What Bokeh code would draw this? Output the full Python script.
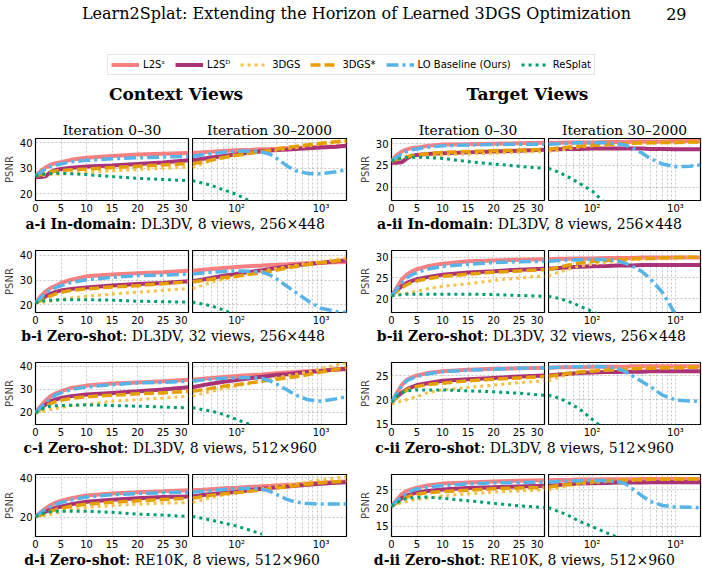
from bokeh.plotting import figure
from bokeh.layouts import column, row
from bokeh.models import Range1d, FixedTicker, Grid, Label
from bokeh.embed import file_html
from bokeh.resources import INLINE

NAN = float("nan")

# ---------------------------------------------------------------- data
ITER_EARLY = [0, 1, 2, 3, 4, 5, 7, 10, 15, 20, 25, 30]
ITER_LATE = [30, 40, 50, 70, 100, 150, 200, 250, 300, 400, 500, 700, 1000, 1500, 2000]
ITERS = ITER_EARLY + ITER_LATE[1:]

METHODS = ["L2S\u02e2", "L2S\u1d30", "3DGS", "3DGS*", "LO Baseline (Ours)", "ReSplat"]

X_TICKS_EARLY = [0, 5, 10, 15, 20, 25, 30]
X_TICKS_LATE = [100, 1000]
X_MINOR_LATE = [40, 50, 60, 70, 80, 90, 200, 300, 400, 500, 600, 700, 800, 900]
X_LABELS_LATE = {100: "10\u00b2", 1000: "10\u00b3"}

# PSNR values, 12 early points (0..30) followed by 14 late points (40..2000)
AI_L2SS = [27.0, 28.8, 30.4, 31.4, 32.0, 32.4, 33.3, 34.1, 34.8, 35.4, 35.7, 36.0,
           36.3, 36.5, 36.8, 37.1, 37.3, 37.5, 37.6, 37.7, 37.9, 38.0, 38.2, 38.4, 38.6, 38.8]
AI_L2SD = [26.4, 26.5, 26.8, 28.6, 29.3, 29.7, 30.2, 30.7, 31.1, 31.7, 32.3, 33.1,
           33.7, 34.2, 34.8, 35.5, 36.2, 36.7, 37.0, 37.2, 37.4, 37.6, 37.9, 38.2, 38.5, 38.8]
AI_3DGS = [27.0, 27.1, 27.3, 27.5, 27.6, 27.7, 28.0, 28.4, 29.0, 29.5, 30.0, 30.4,
           31.8, 33.0, 34.3, 35.3, 36.0, 36.5, 36.9, 37.2, 37.7, 38.1, 38.8, 39.5, 40.1, 40.5]
AI_3DGSX = [27.0, 27.5, 28.0, 28.6, 28.9, 29.1, 29.4, 29.7, 30.3, 30.8, 31.3, 31.8,
            32.5, 33.2, 34.2, 35.1, 36.0, 36.6, 37.1, 37.6, 38.2, 38.6, 39.2, 39.8, 40.4, 40.8]
AI_LO = [27.0, 28.4, 29.7, 30.7, 31.3, 31.7, 32.5, 33.1, 33.7, 34.1, 34.4, 34.7,
         35.3, 35.7, 36.3, 36.7, 36.8, 36.4, 35.5, 33.8, 30.8, 29.0, 27.9, 27.8, 28.6, 29.4]
AI_RESPLAT = [27.0, 27.4, 27.7, 27.9, 28.0, 28.0, 27.8, 27.5, 26.7, 26.0, 25.6, 25.1,
              24.1, 23.3, 21.5, 19.7, 16.7, 14.5] + [NAN] * 8

AII_L2SS = [26.0, 27.3, 28.2, 28.7, 29.0, 29.1, 29.5, 29.8, 29.9, 30.0, 30.1, 30.2,
            30.2, 30.3, 30.3, 30.3, 30.4, 30.4, 30.4, 30.5, 30.5, 30.5, 30.5, 30.6, 30.6, 30.6]
AII_L2SD = [25.6, 25.6, 25.7, 26.6, 27.2, 27.4, 27.6, 27.8, 28.0, 28.2, 28.4, 28.6,
            28.7, 28.8, 28.8, 28.9, 28.9, 28.9, 28.9, 28.9, 28.9, 28.8, 28.8, 28.7, 28.7, 28.7]
AII_3DGS = [26.0, 26.3, 26.6, 26.8, 26.9, 26.9, 27.1, 27.4, 27.6, 27.8, 28.0, 28.2,
            28.5, 28.8, 29.2, 29.5, 29.7, 29.9, 30.0, 30.0, 30.1, 30.1, 30.2, 30.2, 30.3, 30.3]
AII_3DGSX = [26.0, 26.4, 26.7, 27.0, 27.2, 27.4, 27.7, 28.0, 28.2, 28.4, 28.5, 28.7,
             29.0, 29.2, 29.4, 29.6, 29.8, 29.9, 30.0, 30.1, 30.2, 30.2, 30.3, 30.3, 30.4, 30.4]
AII_LO = [26.0, 26.9, 27.6, 28.2, 28.6, 28.8, 29.2, 29.5, 29.7, 29.8, 29.9, 29.9,
          30.0, 30.1, 30.2, 30.2, 30.2, 30.0, 29.7, 29.1, 27.8, 26.6, 25.3, 24.7, 24.8, 25.1]
AII_RESPLAT = [26.0, 26.4, 26.6, 26.8, 26.9, 26.9, 26.8, 26.6, 25.9, 25.3, 24.8, 24.3,
               23.4, 22.5, 20.9, 19.1, 16.0] + [NAN] * 9

BI_L2SS = [20.7, 23.4, 25.4, 26.8, 27.7, 28.8, 30.1, 31.5, 32.2, 32.8, 33.2, 33.8,
           34.2, 34.5, 34.9, 35.3, 35.7, 35.9, 36.1, 36.2, 36.4, 36.6, 36.8, 37.0, 37.2, 37.3]
BI_L2SD = [20.7, 22.0, 23.4, 24.5, 25.2, 25.8, 26.4, 27.0, 27.8, 28.4, 28.8, 29.5,
           30.2, 30.8, 31.7, 32.5, 33.4, 34.0, 34.5, 34.9, 35.5, 36.0, 36.5, 37.0, 37.6, 38.0]
BI_3DGS = [20.7, 20.9, 21.1, 21.5, 21.8, 22.0, 22.7, 23.4, 24.3, 25.1, 25.8, 26.5,
           28.0, 29.0, 30.3, 31.5, 32.7, 33.5, 34.2, 34.7, 35.4, 36.0, 36.8, 37.5, 38.4, 39.0]
BI_3DGSX = [20.7, 21.7, 22.7, 23.6, 24.4, 25.0, 25.8, 26.4, 27.2, 27.7, 28.5, 29.2,
            29.8, 30.3, 31.0, 31.5, 32.4, 33.0, 33.6, 34.1, 34.9, 35.5, 36.3, 37.0, 37.7, 38.2]
BI_LO = [20.7, 22.7, 24.7, 26.1, 27.0, 27.7, 29.0, 30.1, 31.1, 31.8, 32.0, 32.4,
         32.9, 33.2, 33.5, 33.7, 33.6, 33.2, 32.0, 30.3, 27.3, 25.0, 21.5, 18.5, 17.2, 16.8]
BI_RESPLAT = [20.7, 21.4, 21.6, 21.8, 21.9, 22.0, 22.0, 22.0, 21.8, 21.4, 21.2, 21.0,
              20.2, 19.5, 17.8, 15.5] + [NAN] * 10

BII_L2SS = [20.7, 22.6, 24.6, 25.8, 26.6, 27.1, 27.8, 28.4, 29.0, 29.2, 29.4, 29.5,
            29.6, 29.6, 29.7, 29.7, 29.8, 29.8, 29.8, 29.8, 29.9, 29.9, 29.9, 29.9, 29.9, 29.9]
BII_L2SD = [20.7, 22.0, 23.0, 23.8, 24.3, 24.7, 25.2, 25.8, 26.3, 26.6, 27.0, 27.2,
            27.4, 27.5, 27.7, 27.8, 27.9, 28.0, 28.0, 28.0, 28.1, 28.1, 28.1, 28.1, 28.1, 28.1]
BII_3DGS = [20.7, 20.9, 21.1, 21.3, 21.6, 21.8, 22.4, 23.0, 23.6, 24.4, 25.0, 25.5,
            26.4, 27.0, 27.8, 28.3, 28.8, 29.0, 29.2, 29.4, 29.5, 29.6, 29.7, 29.8, 29.9, 30.0]
BII_3DGSX = [20.7, 21.7, 22.6, 23.4, 23.9, 24.3, 24.8, 25.4, 25.9, 26.4, 26.7, 27.0,
             27.6, 28.0, 28.6, 29.0, 29.2, 29.4, 29.5, 29.6, 29.7, 29.7, 29.8, 29.9, 30.0, 30.0]
BII_LO = [20.7, 22.3, 23.8, 25.0, 25.8, 26.3, 27.1, 27.8, 28.3, 28.7, 28.9, 29.0,
          29.2, 29.3, 29.4, 29.5, 29.4, 29.2, 28.5, 27.9, 26.5, 24.8, 21.5, 16.3, NAN, NAN]
BII_RESPLAT = [20.7, 20.9, 21.0, 21.1, 21.1, 21.1, 21.1, 21.1, 21.1, 21.0, 20.8, 20.6,
               20.1, 19.5, 18.3, 17.0, 15.2] + [NAN] * 9

CI_L2SS = [19.7, 22.6, 25.2, 27.0, 28.2, 29.1, 30.6, 31.6, 32.5, 33.0, 33.5, 34.2,
           34.6, 34.9, 35.4, 35.8, 36.2, 36.5, 36.8, 37.0, 37.3, 37.5, 37.9, 38.2, 38.6, 38.8]
CI_L2SD = [19.7, 21.9, 23.3, 24.8, 25.6, 26.2, 27.0, 27.7, 28.4, 29.1, 29.9, 30.9,
           31.8, 32.4, 33.3, 34.0, 34.9, 35.5, 35.9, 36.2, 36.6, 37.0, 37.5, 38.0, 38.6, 39.0]
CI_3DGS = [19.7, 19.9, 20.6, 21.2, 21.6, 21.9, 22.9, 23.3, 24.8, 25.5, 26.2, 27.0,
           28.2, 29.0, 30.3, 31.5, 32.7, 33.5, 34.3, 35.0, 35.9, 36.5, 37.6, 39.0, 40.5, 41.5]
CI_3DGSX = [19.7, 21.2, 22.6, 23.8, 24.6, 25.2, 26.0, 26.7, 27.4, 28.0, 28.4, 29.1,
            29.8, 30.4, 31.3, 32.0, 32.9, 33.5, 34.0, 34.4, 35.0, 35.5, 36.4, 37.5, 38.6, 39.5]
CI_LO = [19.7, 22.0, 24.3, 26.2, 27.5, 28.4, 29.9, 31.0, 32.0, 32.8, 33.0, 33.5,
         34.1, 34.4, 34.8, 35.0, 35.1, 34.8, 33.6, 32.2, 29.6, 27.5, 25.4, 24.8, 25.8, 26.7]
CI_RESPLAT = [19.7, 21.0, 22.2, 22.6, 22.8, 22.9, 23.0, 23.2, 22.9, 22.6, 22.2, 21.9,
              21.1, 20.5, 19.0, 16.8, 14.3] + [NAN] * 9

CII_L2SS = [19.4, 21.4, 23.1, 24.2, 24.7, 25.1, 25.6, 26.0, 26.3, 26.5, 26.6, 26.7,
            26.8, 26.8, 26.8, 26.9, 26.9, 26.9, 26.9, 27.0, 27.0, 27.0, 27.0, 27.0, 27.0, 27.0]
CII_L2SD = [19.5, 20.6, 21.5, 22.2, 22.7, 23.1, 23.5, 24.0, 24.3, 24.6, 24.9, 25.1,
            25.3, 25.4, 25.6, 25.7, 25.8, 25.8, 25.9, 25.9, 25.9, 26.0, 26.0, 26.0, 26.0, 26.0]
CII_3DGS = [19.2, 19.4, 19.8, 20.1, 20.4, 20.7, 21.5, 22.1, 22.6, 23.1, 23.6, 24.0,
            24.8, 25.2, 25.7, 26.1, 26.3, 26.5, 26.5, 26.6, 26.6, 26.7, 26.7, 26.7, 26.8, 26.8]
CII_3DGSX = [19.5, 20.5, 21.4, 22.1, 22.5, 22.8, 23.2, 23.5, 24.0, 24.3, 24.6, 24.9,
             25.3, 25.5, 25.8, 26.0, 26.2, 26.3, 26.4, 26.5, 26.6, 26.6, 26.7, 26.7, 26.8, 26.8]
CII_LO = [19.5, 21.3, 22.9, 24.0, 24.5, 24.9, 25.4, 25.9, 26.2, 26.4, 26.6, 26.7,
          26.8, 26.9, 26.9, 27.0, 26.9, 26.6, 25.9, 25.1, 23.8, 22.8, 21.0, 20.0, 19.8, 19.7]
CII_RESPLAT = [19.5, 20.7, 21.5, 21.9, 22.0, 22.1, 22.1, 22.1, 21.9, 21.7, 21.4, 21.0,
               20.4, 19.6, 18.2, 16.0, 13.5] + [NAN] * 9

DI_L2SS = [20.5, 22.6, 24.6, 26.3, 27.5, 28.4, 29.7, 31.1, 32.1, 32.8, 33.2, 33.7,
           34.0, 34.3, 34.7, 35.0, 35.5, 35.8, 36.0, 36.2, 36.5, 36.7, 37.1, 37.5, 37.9, 38.2]
DI_L2SD = [20.5, 21.7, 22.9, 24.1, 24.9, 25.5, 26.7, 28.0, 28.9, 29.7, 30.3, 30.6,
           31.3, 31.8, 32.4, 33.0, 33.9, 34.5, 34.9, 35.2, 35.6, 36.0, 36.5, 37.0, 37.5, 37.8]
DI_3DGS = [20.5, 20.9, 21.2, 21.5, 22.2, 22.9, 24.1, 25.0, 26.0, 26.7, 27.2, 27.5,
           28.9, 30.0, 31.4, 32.5, 33.7, 34.5, 35.1, 35.6, 36.4, 37.0, 38.0, 39.0, 40.0, 40.5]
DI_3DGSX = [20.5, 21.2, 22.0, 23.2, 24.0, 24.6, 25.7, 26.7, 27.7, 28.4, 29.1, 29.7,
            30.6, 31.2, 32.0, 32.5, 33.4, 34.0, 34.5, 35.0, 35.5, 36.0, 36.8, 37.5, 38.1, 38.5]
DI_LO = [20.5, 22.3, 24.1, 25.5, 26.6, 27.5, 28.9, 30.3, 31.5, 32.1, 32.5, 32.8,
         33.2, 33.5, 34.1, 34.5, 34.8, 34.3, 33.2, 31.5, 29.0, 27.8, 27.0, 26.8, 26.8, 26.8]
DI_RESPLAT = [20.5, 21.7, 22.6, 22.9, 23.1, 23.2, 23.2, 23.2, 22.6, 21.7, 21.2, 20.5,
              19.5, 18.7, 17.2, 15.7, 13.3, 11.6] + [NAN] * 8

DII_L2SS = [20.5, 22.2, 23.8, 24.7, 25.2, 25.6, 26.2, 26.7, 27.0, 27.3, 27.5, 27.6,
            27.7, 27.7, 27.8, 27.8, 27.9, 27.9, 27.9, 27.9, 28.0, 28.0, 28.0, 28.0, 28.0, 28.0]
DII_L2SD = [20.5, 21.7, 22.7, 23.4, 23.9, 24.3, 24.7, 25.1, 25.5, 25.7, 25.9, 26.1,
            26.3, 26.5, 26.7, 26.8, 26.9, 27.0, 27.0, 27.0, 27.0, 27.1, 27.1, 27.1, 27.1, 27.1]
DII_3DGS = [20.5, 21.0, 21.5, 21.8, 22.1, 22.4, 22.7, 23.3, 23.9, 24.4, 24.7, 25.0,
            25.6, 26.0, 26.6, 27.0, 27.3, 27.5, 27.6, 27.6, 27.7, 27.8, 27.8, 27.9, 28.0, 28.0]
DII_3DGSX = [20.5, 21.4, 22.2, 23.0, 23.5, 23.8, 24.2, 24.5, 24.9, 25.3, 25.5, 25.7,
             26.2, 26.5, 26.9, 27.2, 27.4, 27.6, 27.7, 27.7, 27.8, 27.9, 27.9, 28.0, 28.0, 28.0]
DII_LO = [20.5, 21.9, 23.1, 24.1, 24.8, 25.2, 25.7, 26.2, 26.6, 26.9, 27.0, 27.1,
          27.3, 27.4, 27.5, 27.6, 27.5, 27.3, 26.7, 25.4, 23.3, 21.8, 20.7, 20.3, 20.2, 20.1]
DII_RESPLAT = [20.5, 21.4, 22.2, 22.7, 22.8, 22.9, 23.0, 22.7, 22.0, 21.3, 20.6, 20.1,
               19.0, 18.2, 16.4, 14.9, 13.2, 12.0] + [NAN] * 8

PANEL_SERIES = {
    "a-i": [AI_L2SS, AI_L2SD, AI_3DGS, AI_3DGSX, AI_LO, AI_RESPLAT],
    "a-ii": [AII_L2SS, AII_L2SD, AII_3DGS, AII_3DGSX, AII_LO, AII_RESPLAT],
    "b-i": [BI_L2SS, BI_L2SD, BI_3DGS, BI_3DGSX, BI_LO, BI_RESPLAT],
    "b-ii": [BII_L2SS, BII_L2SD, BII_3DGS, BII_3DGSX, BII_LO, BII_RESPLAT],
    "c-i": [CI_L2SS, CI_L2SD, CI_3DGS, CI_3DGSX, CI_LO, CI_RESPLAT],
    "c-ii": [CII_L2SS, CII_L2SD, CII_3DGS, CII_3DGSX, CII_LO, CII_RESPLAT],
    "d-i": [DI_L2SS, DI_L2SD, DI_3DGS, DI_3DGSX, DI_LO, DI_RESPLAT],
    "d-ii": [DII_L2SS, DII_L2SD, DII_3DGS, DII_3DGSX, DII_LO, DII_RESPLAT],
}
Y_LIMITS = {
    "a-i": (17.3, 41.7), "a-ii": (16.9, 31.2),
    "b-i": (16.8, 42.0), "b-ii": (16.7, 31.6),
    "c-i": (14.6, 41.7), "c-ii": (14.9, 27.8),
    "d-i": (10.4, 41.7), "d-ii": (12.2, 29.2),
}
Y_TICKS = {
    "a-i": [20, 30, 40], "a-ii": [20, 25, 30],
    "b-i": [20, 30, 40], "b-ii": [20, 25, 30],
    "c-i": [20, 30, 40], "c-ii": [15, 20, 25],
    "d-i": [20, 40], "d-ii": [15, 20, 25],
}
CAPTION_BOLD = {
    "a-i": "a-i In-domain", "a-ii": "a-ii In-domain",
    "b-i": "b-i Zero-shot", "b-ii": "b-ii Zero-shot",
    "c-i": "c-i Zero-shot", "c-ii": "c-ii Zero-shot",
    "d-i": "d-i Zero-shot", "d-ii": "d-ii Zero-shot",
}
CAPTION_REST = {
    "a-i": ": DL3DV, 8 views, 256\u00d7448", "a-ii": ": DL3DV, 8 views, 256\u00d7448",
    "b-i": ": DL3DV, 32 views, 256\u00d7448", "b-ii": ": DL3DV, 32 views, 256\u00d7448",
    "c-i": ": DL3DV, 8 views, 512\u00d7960", "c-ii": ": DL3DV, 8 views, 512\u00d7960",
    "d-i": ": RE10K, 8 views, 512\u00d7960", "d-ii": ": RE10K, 8 views, 512\u00d7960",
}
TITLE = "Learn2Splat: Extending the Horizon of Learned 3DGS Optimization"
PAGE_NO = "29"
GROUP_TITLES = ["Context Views", "Target Views"]
SUBTITLES = ["Iteration 0\u201330", "Iteration 30\u20132000"]
Y_LABEL = "PSNR"

# ---------------------------------------------------------------- style
SANS = "DejaVu Sans"
SERIF = "DejaVu Serif"
STYLES = [
    dict(line_color="#F88080", line_width=4.0, line_dash="solid"),
    dict(line_color="#AA3377", line_width=4.0, line_dash="solid"),
    dict(line_color="#F3C246", line_width=3.0, line_dash="3 4"),
    dict(line_color="#E69F00", line_width=3.5, line_dash="10 4"),
    dict(line_color="#56B4E9", line_width=3.5, line_dash="12 4 3 4"),
    dict(line_color="#009E73", line_width=3.0, line_dash="3 4"),
]
GRID_COLOR = "#999999"
FRAME_H = 62
TOP_B = 19
BOT_B = 15
CAP_H = 15
HEADER_H = 118


def add_grid(p, dim, ticks, minor=None):
    g = Grid(dimension=dim, ticker=FixedTicker(ticks=ticks, minor_ticks=minor or []),
             grid_line_color=GRID_COLOR, grid_line_alpha=0.7, grid_line_dash="2 2",
             grid_line_width=0.8)
    if minor:
        g.minor_grid_line_color = GRID_COLOR
        g.minor_grid_line_alpha = 0.7
        g.minor_grid_line_dash = "2 2"
        g.minor_grid_line_width = 0.8
    p.add_layout(g)


def base_style(p):
    p.xgrid.visible = False
    p.ygrid.visible = False
    p.outline_line_color = "black"
    p.outline_line_width = 1.2
    p.outline_line_alpha = 1.0
    p.background_fill_color = "white"
    p.border_fill_color = "white"
    for ax in p.xaxis:
        ax.axis_line_color = None
        ax.major_tick_out = 0
        ax.major_tick_in = 0
        ax.minor_tick_out = 0
        ax.minor_tick_in = 0
        ax.major_label_standoff = 2
        ax.major_label_text_font = SANS
        ax.major_label_text_font_size = "10px"
        ax.major_label_text_color = "black"


def style_title(p, text):
    p.title.text = text
    p.title.align = "center"
    p.title.text_font = SERIF
    p.title.text_font_size = "13.8px"
    p.title.text_font_style = "normal"
    p.title.text_color = "black"
    p.title.standoff = 2


def panel_pair(pid, with_title, fw1, fw2, right_b2):
    ylo, yhi = Y_LIMITS[pid]
    series = PANEL_SERIES[pid]
    common = dict(frame_height=FRAME_H, output_backend="svg", toolbar_location=None,
                  min_border_top=TOP_B, min_border_bottom=BOT_B)
    f1 = figure(frame_width=fw1, x_range=Range1d(0, 30), y_range=Range1d(ylo, yhi),
                min_border_left=32, min_border_right=4, **common)
    f2 = figure(frame_width=fw2, x_axis_type="log", x_range=Range1d(30, 2000),
                y_range=Range1d(ylo, yhi), y_axis_location=None,
                min_border_left=0, min_border_right=right_b2, **common)
    for p in (f1, f2):
        base_style(p)
    if with_title:
        style_title(f1, SUBTITLES[0])
        style_title(f2, SUBTITLES[1])

    f1.xaxis.ticker = FixedTicker(ticks=X_TICKS_EARLY)
    f1.xaxis.major_label_overrides = {30: "30\u2002"}
    ya = f1.yaxis[0]
    ya.ticker = FixedTicker(ticks=Y_TICKS[pid])
    ya.axis_line_color = None
    ya.major_tick_out = 0
    ya.major_tick_in = 0
    ya.minor_tick_out = 0
    ya.minor_tick_in = 0
    ya.major_label_standoff = 3
    ya.major_label_text_font = SANS
    ya.major_label_text_font_size = "10px"
    ya.major_label_text_color = "black"
    ya.axis_label = Y_LABEL
    ya.axis_label_text_font = SANS
    ya.axis_label_text_font_size = "10px"
    ya.axis_label_text_font_style = "normal"
    ya.axis_label_standoff = 2

    f2.xaxis.ticker = FixedTicker(ticks=X_TICKS_LATE, minor_ticks=X_MINOR_LATE)
    f2.xaxis.major_label_overrides = X_LABELS_LATE

    add_grid(f1, 0, X_TICKS_EARLY)
    add_grid(f1, 1, Y_TICKS[pid])
    add_grid(f2, 0, X_TICKS_LATE, X_MINOR_LATE)
    add_grid(f2, 1, Y_TICKS[pid])

    n_early = len(ITER_EARLY)
    for vals, st in zip(series, STYLES):
        f1.line(ITERS[:n_early], vals[:n_early], line_cap="butt", **st)
        f2.line(ITERS[n_early - 1:], vals[n_early - 1:], line_cap="butt", **st)
    return f1, f2


def bare_figure(w, h, yr):
    p = figure(width=w, height=h, x_range=Range1d(0, w), y_range=yr,
               output_backend="svg", toolbar_location=None,
               x_axis_location=None, y_axis_location=None, min_border=0)
    p.min_border_left = 0
    p.min_border_right = 0
    p.min_border_top = 0
    p.min_border_bottom = 0
    p.xgrid.visible = False
    p.ygrid.visible = False
    p.outline_line_color = None
    return p


def build_header():
    p = bare_figure(702, HEADER_H, Range1d(HEADER_H, 0))
    p.add_layout(Label(x=356, y=13, text=TITLE, text_align="center", text_baseline="middle",
                       text_font=SERIF, text_font_size="16px", text_color="black"))
    p.add_layout(Label(x=686, y=13, text=PAGE_NO, text_align="right", text_baseline="middle",
                       text_font=SERIF, text_font_size="16px", text_color="black"))
    for cx, txt in zip((175.5, 527), GROUP_TITLES):
        p.add_layout(Label(x=cx, y=93, text=txt, text_align="center", text_baseline="middle",
                           text_font=SERIF, text_font_size="17px", text_font_style="bold",
                           text_color="black"))
    # legend-only renderers (no visible data inside the header)
    for name, st in zip(METHODS, STYLES):
        p.line(x=[NAN, NAN], y=[NAN, NAN], legend_label=name, line_cap="butt", **st)
    lg = p.legend[0]
    lg.orientation = "horizontal"
    lg.location = "top_center"
    lg.margin = 54
    lg.padding = 3
    lg.spacing = 10
    lg.glyph_width = 28
    lg.glyph_height = 13
    lg.label_height = 13
    lg.label_width = 10
    lg.label_standoff = 4
    lg.label_text_font = SANS
    lg.label_text_font_size = "10px"
    lg.label_text_color = "black"
    lg.border_line_color = "#cccccc"
    lg.border_line_width = 1
    lg.background_fill_color = "white"
    lg.background_fill_alpha = 1.0
    return p


def build_caption(pid_left, pid_right, split_left, split_right):
    p = bare_figure(702, CAP_H, Range1d(0, 1))
    for pid, sx in ((pid_left, split_left), (pid_right, split_right)):
        p.add_layout(Label(x=sx, y=0.5, text=CAPTION_BOLD[pid], text_align="right",
                           text_baseline="middle", text_font=SERIF, text_font_size="14px",
                           text_font_style="bold", text_color="black"))
        p.add_layout(Label(x=sx, y=0.5, text=CAPTION_REST[pid], text_align="left",
                           text_baseline="middle", text_font=SERIF, text_font_size="14px",
                           text_font_style="normal", text_color="black"))
    return p


ROWS = [("a-i", "a-ii", 131, 488), ("b-i", "b-ii", 122, 483),
        ("c-i", "c-ii", 123, 480), ("d-i", "d-ii", 125, 480)]

blocks = [build_header()]
for k, (pl, pr, sl, sr) in enumerate(ROWS):
    l1, l2 = panel_pair(pl, k == 0, 153, 154, 10)
    r1, r2 = panel_pair(pr, k == 0, 153, 152, 8)
    blocks.append(row(l1, l2, r1, r2))
    blocks.append(build_caption(pl, pr, sl, sr))

layout = column(*blocks)
open("out.html", "w").write(file_html(layout, INLINE, title="Learn2Splat PSNR curves"))
